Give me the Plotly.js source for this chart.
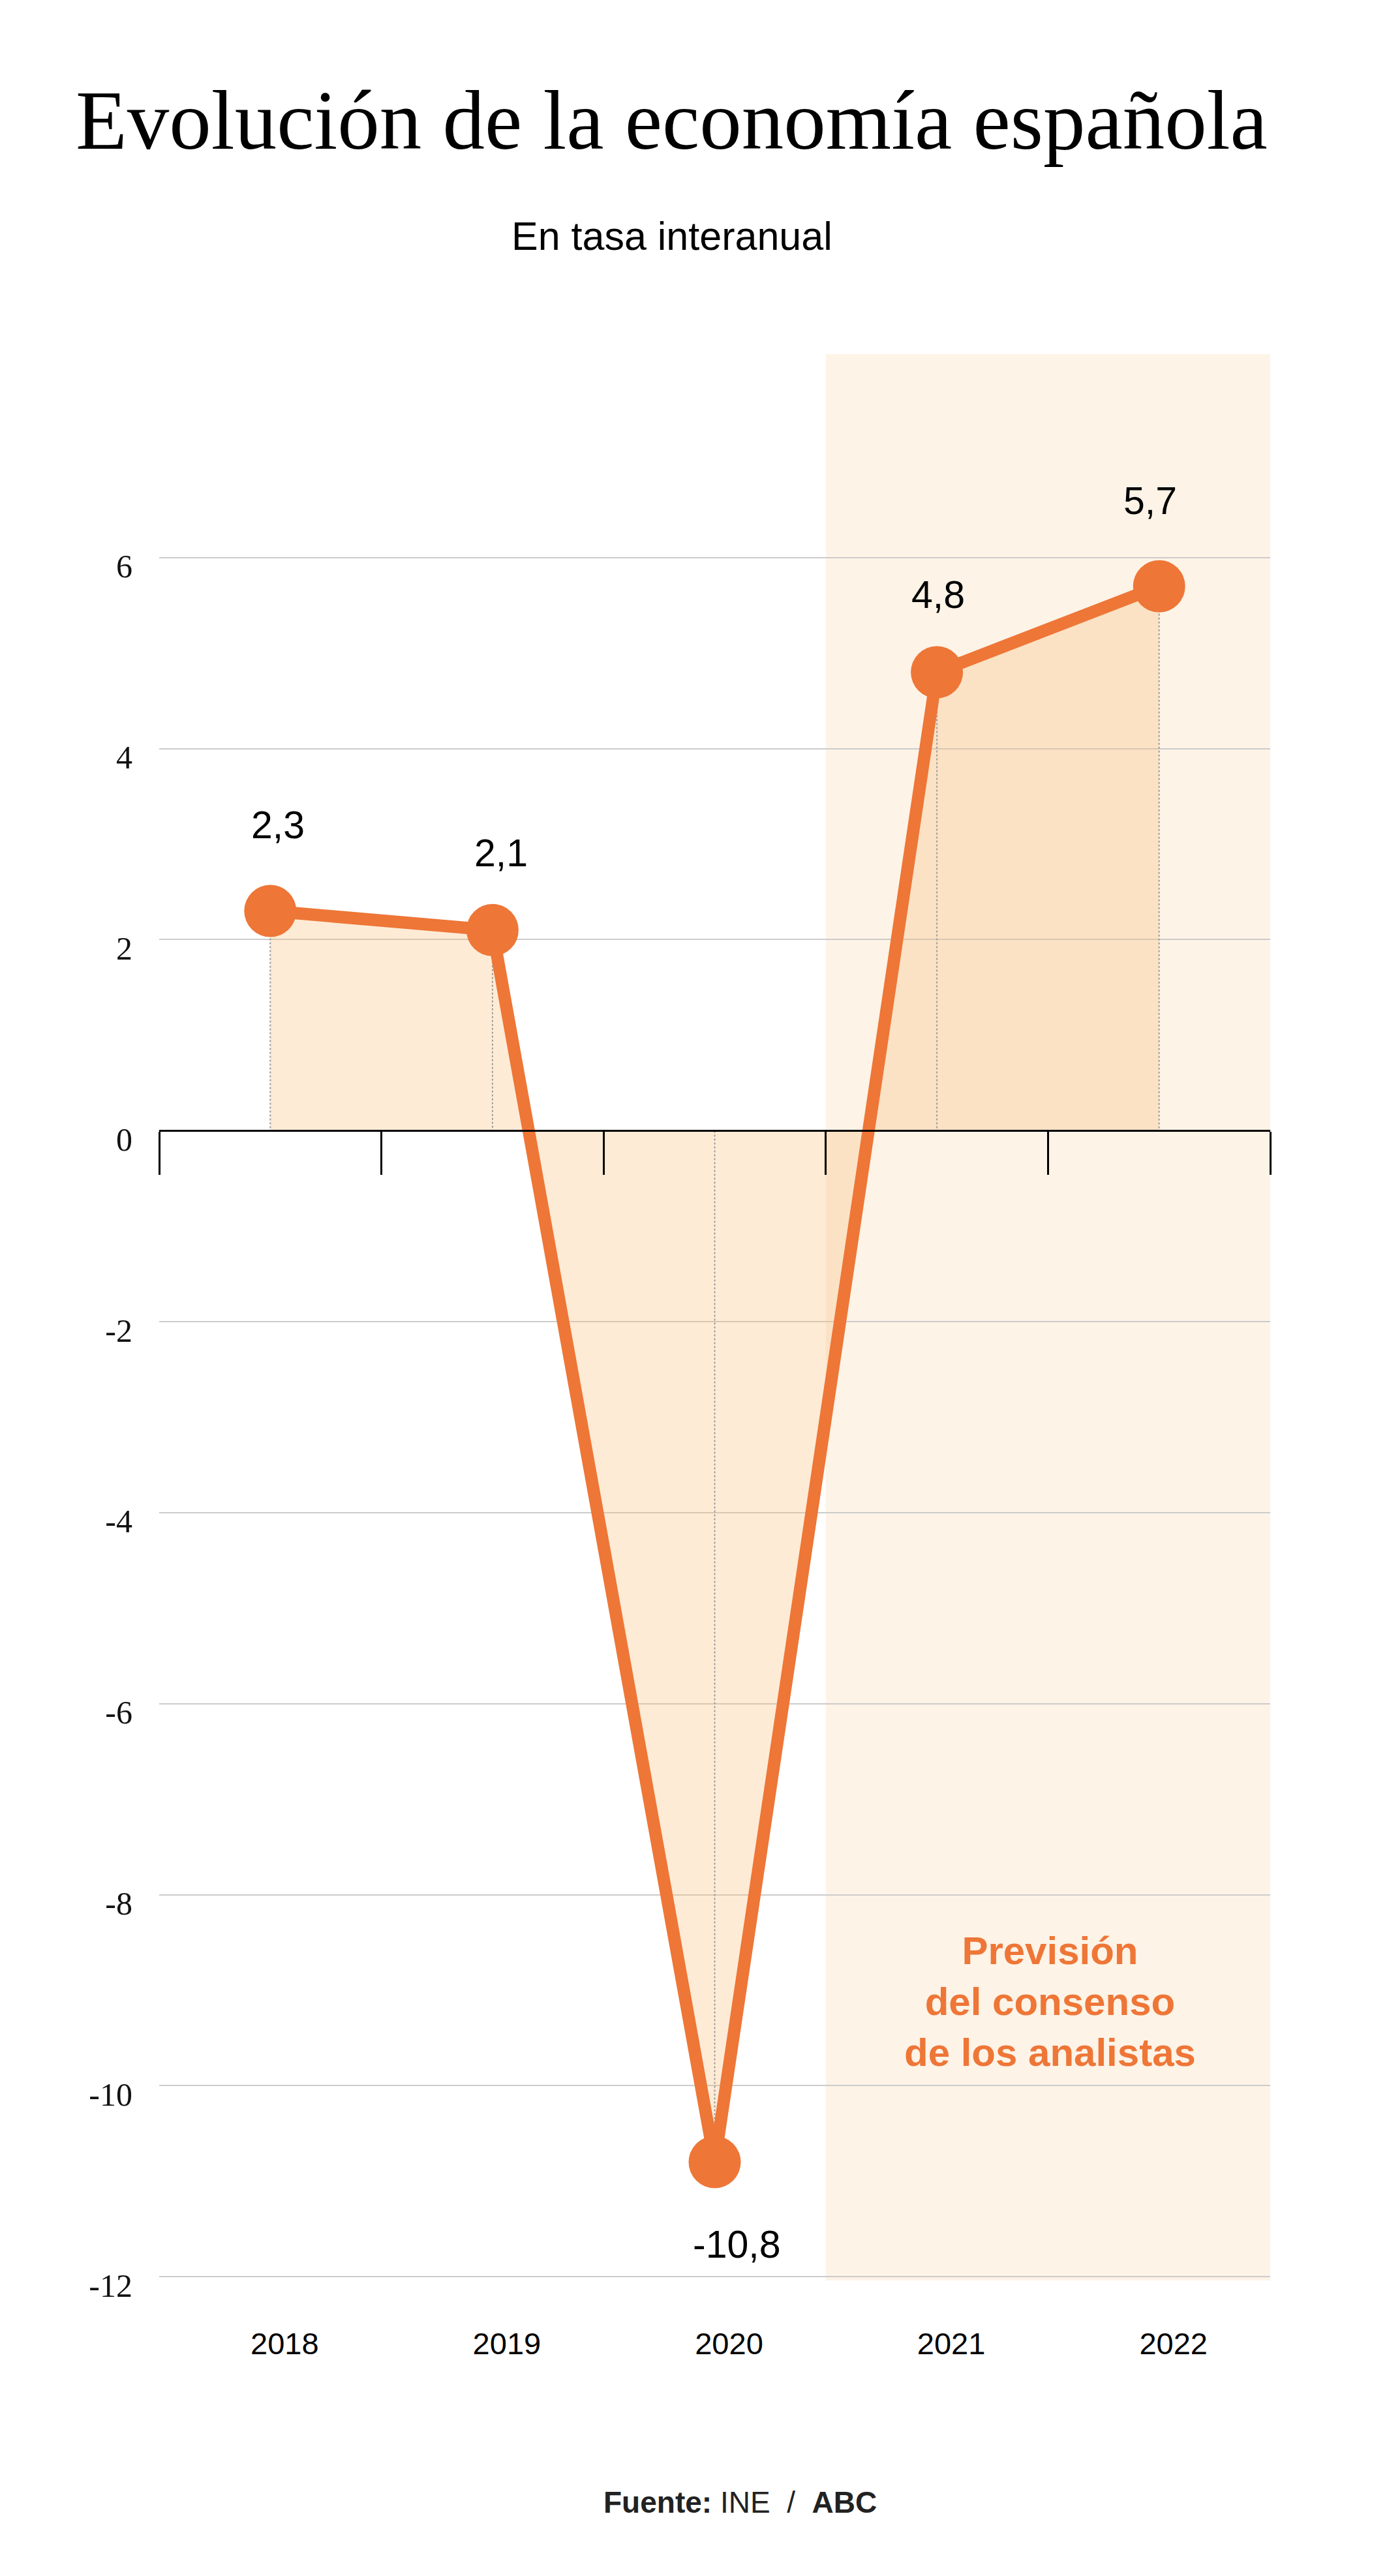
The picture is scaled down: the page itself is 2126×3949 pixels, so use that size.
<!DOCTYPE html>
<html><head><meta charset="utf-8">
<script src="https://cdn.plot.ly/plotly-3.0.1.min.js"></script>
<style>html,body{margin:0;padding:0;background:#fff}</style>
</head><body><div id="chart" style="width:2126px;height:3949px"></div>
<script>
const years = ['2018', '2019', '2020', '2021', '2022'];
const growth = [2.3, 2.1, -10.8, 4.8, 5.7];
const forecastYears = ['2021', '2022'];
const yTickVals = [-12, -10, -8, -6, -4, -2, 0, 2, 4, 6];
const yTickText = ['-12', '-10', '-8', '-6', '-4', '-2', '0', '2', '4', '6'];
const titleText = 'Evolución de la economía española';
const subtitleText = 'En tasa interanual';
const noteText = 'Previsión<br>del consenso<br>de los analistas';
const sourceText = '<b>Fuente:</b> INE  /  <b>ABC</b>';

const idx = years.map((_, i) => i);
const fmt = v => v.toFixed(1).replace('.', ',');
const Y_RANGE = [-12.04, 8.13];
const X_RANGE = [-0.5, years.length - 0.5];
const ORANGE = '#EE7637';
const SANS = 'Liberation Sans, Arial, sans-serif';
const SERIF = 'Liberation Serif, Times New Roman, serif';

const dropX = [], dropY = [];
idx.forEach(i => { dropX.push(i, i, null); dropY.push(growth[i], 0, null); });

const traces = [
  { x: idx, y: growth, mode: 'none', fill: 'tozeroy', fillcolor: 'rgba(249,190,120,0.30)', hoverinfo: 'skip', showlegend: false },
  { x: dropX, y: dropY, mode: 'lines', line: { color: '#9c9c9c', width: 2, dash: 'dot' }, hoverinfo: 'skip', showlegend: false },
  { x: idx, y: growth, mode: 'lines+markers', line: { color: ORANGE, width: 19 }, marker: { color: ORANGE, size: 80 }, hoverinfo: 'skip', showlegend: false },
  { x: idx, y: growth, xaxis: 'x2', mode: 'none', hoverinfo: 'skip', showlegend: false }
];

const labelXShift = [12, 13, 33, 2, -14];
const labelYShift = [97, 83, -92, 84, 96];
const annotations = growth.map((v, i) => ({
  x: i, y: v, xref: 'x', yref: 'y', text: fmt(v), showarrow: false,
  xshift: labelXShift[i],
  yanchor: v >= 0 ? 'bottom' : 'top',
  yshift: labelYShift[i],
  font: { family: SANS, size: 59, color: '#000' }
}));
annotations.push(
  { xref: 'paper', yref: 'paper', x: (1030 - 244) / 1703, y: (3496 - 362) / 2953, text: subtitleText, showarrow: false,
    xanchor: 'center', yanchor: 'middle', font: { family: SANS, size: 61, color: '#000' } },
  { xref: 'x', yref: 'y', x: (years.indexOf(forecastYears[0]) + years.indexOf(forecastYears[forecastYears.length - 1])) / 2 + 0.01, y: -9.12,
    text: noteText, showarrow: false, xanchor: 'center', yanchor: 'middle',
    font: { family: SANS, size: 60, color: ORANGE, weight: 'bold' } },
  { xref: 'paper', yref: 'paper', x: (1134 - 244) / 1703, y: (3496 - 3836) / 2953, text: sourceText, showarrow: false,
    xanchor: 'center', yanchor: 'middle', font: { family: SANS, size: 46, color: '#222' } }
);

const zeroPos = (0 - Y_RANGE[0]) / (Y_RANGE[1] - Y_RANGE[0]);
const bounds = [];
for (let i = 0; i <= years.length; i++) bounds.push(i - 0.5);

const layout = {
  width: 2126, height: 3949,
  paper_bgcolor: '#fff', plot_bgcolor: 'rgba(0,0,0,0)',
  margin: { l: 244, r: 179, t: 543, b: 453 },
  title: { text: titleText, x: 116 / 2126, xanchor: 'left', y: 1 - 138 / 3949, yanchor: 'top',
    font: { family: SERIF, size: 129, color: '#000' } },
  xaxis: { range: X_RANGE, tickvals: idx, ticktext: years, showgrid: false, zeroline: false, showline: false,
    ticks: '', ticklabelstandoff: 65, ticklabelshift: 22, tickfont: { family: SANS, size: 47, color: '#000' }, fixedrange: true },
  xaxis2: { overlaying: 'x', anchor: 'free', position: zeroPos, range: X_RANGE, tickvals: bounds,
    ticks: 'outside', ticklen: 66, tickwidth: 3, tickcolor: '#000', showline: true, linecolor: '#000', linewidth: 3,
    showticklabels: false, showgrid: false, zeroline: false },
  yaxis: { range: Y_RANGE, tickvals: yTickVals, ticktext: yTickText, showgrid: true, gridcolor: '#cccccc', gridwidth: 2,
    zeroline: false, showline: false, ticks: '', ticklabelstandoff: 40, ticklabelshift: 13,
    tickfont: { family: SERIF, size: 50, color: '#111' } },
  shapes: [
    { type: 'rect', xref: 'x', yref: 'paper', layer: 'below',
      x0: years.indexOf(forecastYears[0]) - 0.5, x1: years.indexOf(forecastYears[forecastYears.length - 1]) + 0.5,
      y0: 0, y1: 1, fillcolor: '#FDF3E7', line: { width: 0 } }
  ],
  annotations: annotations,
  showlegend: false
};

Plotly.newPlot('chart', traces, layout, { displayModeBar: false, staticPlot: true });
</script></body></html>
